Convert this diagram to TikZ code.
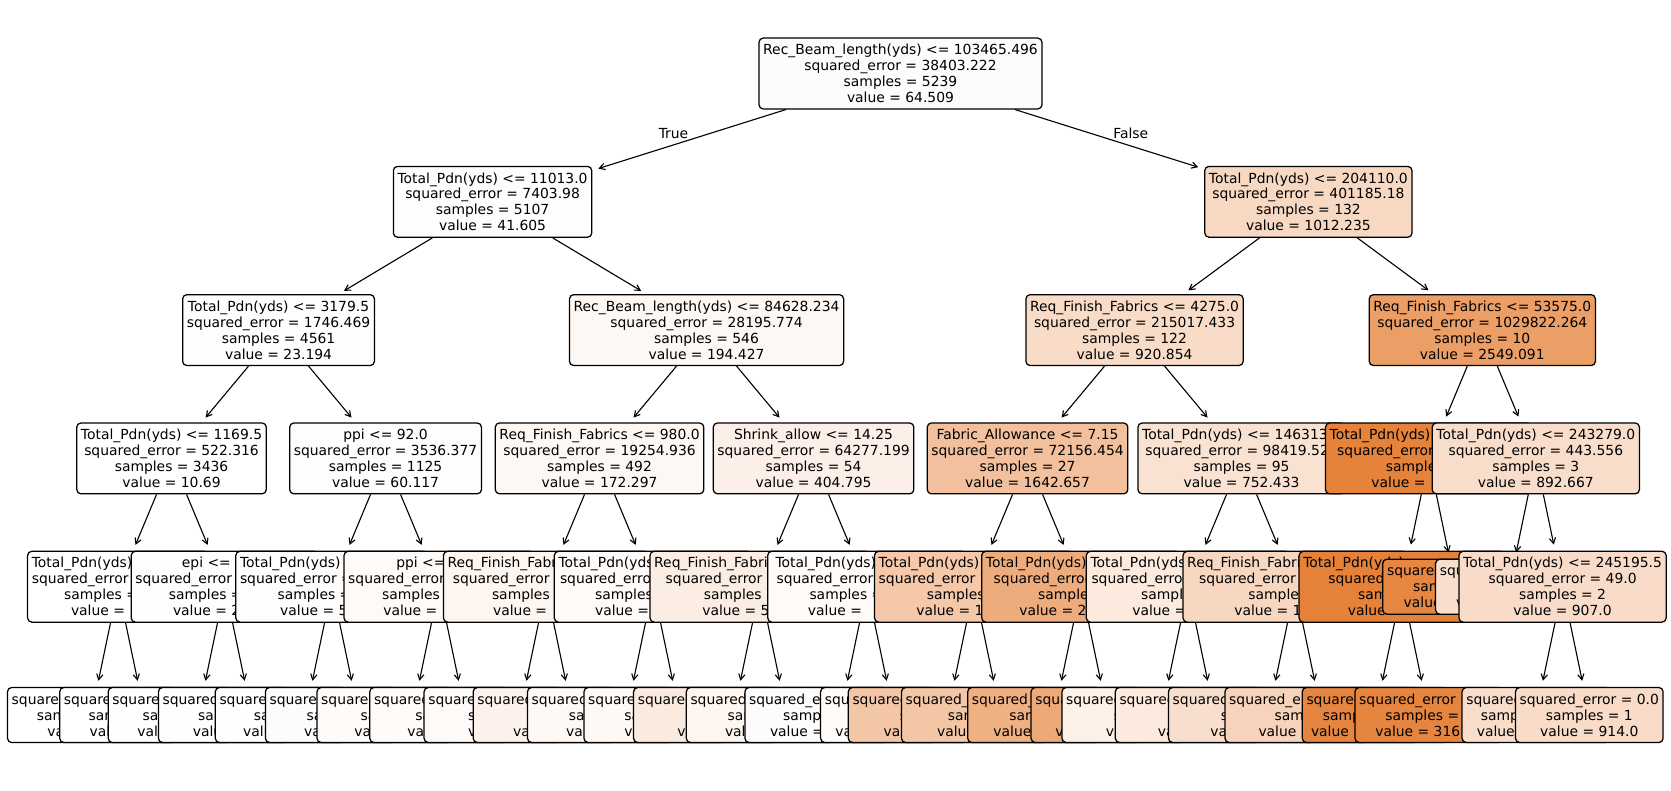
\documentclass[tikz,border=0pt]{standalone}
\usepackage{fontspec}
\setmainfont{DejaVu Sans}
\usetikzlibrary{arrows.meta}
\definecolor{treeor}{RGB}{229,129,57}
\newlength\lwlen
\newcommand{\lw}[2]{\pgfmathsetlength\lwlen{#1*0.72pt}\makebox[\lwlen][l]{#2}}
\begin{document}
\begin{tikzpicture}[x=0.72pt, y=-0.72pt,
  tn/.style={draw=black, line width=0.9pt, rounded corners=3pt, inner sep=3pt, align=center, font=\fontsize{10}{11.5}\selectfont, minimum height=51pt},
  lf/.style={tn, minimum height=39.6pt},
  mw/.style={minimum width=#1*0.72pt},
  arr/.style={draw=black, line width=0.8pt, -{Straight Barb[length=4pt,width=4.5pt]}, shorten >=4.5pt},
  lbl/.style={font=\fontsize{10}{11.5}\selectfont, inner sep=1pt}]
\fill[white] (0,0) rectangle (1671,790);
\useasboundingbox (0,0) rectangle (1671,790);
% level 0
\node[tn, fill=treeor!2] (r) at (900.5,73.5) {Rec\_Beam\_length(yds) <= 103465.496\\squared\_error = 38403.222\\samples = 5239\\value = 64.509};
% left half
\node[tn, fill=treeor!1.3] (n1) at (492.55,201.8) {Total\_Pdn(yds) <= 11013.0\\squared\_error = 7403.98\\samples = 5107\\value = 41.605};
\draw[arr] (r) -- (n1);
\node[lbl] (tl) at (673.5,133.2) {True};
\node[tn, fill=treeor!0.7] (nA) at (278.55,330.1) {Total\_Pdn(yds) <= 3179.5\\squared\_error = 1746.469\\samples = 4561\\value = 23.194};
\draw[arr] (n1) -- (nA);
\node[tn, fill=treeor!0.3] (a1) at (171.55,458.4) {Total\_Pdn(yds) <= 1169.5\\squared\_error = 522.316\\samples = 3436\\value = 10.69};
\draw[arr] (nA) -- (a1);
\node[tn, mw=180.9, fill=treeor!0.2] (e1) at (118.05,586.7) {\lw{172.5}{Total\_Pdn(yds) <=}\\\lw{172.5}{squared\_error =}\\\lw{107.7}{samples =}\\\lw{94.1}{value =}};
\draw[arr] (a1) -- (e1);
\node[lf, mw=167.6, fill=treeor!0] (f1) at (91.3,715) {\lw{159.2}{squared\_error =}\\\lw{109}{samples =}\\\lw{87.8}{value =}};
\draw[arr] (e1) -- (f1);
\node[lf, mw=170.2, fill=treeor!0.3] (f2) at (144.8,715) {\lw{161.8}{squared\_error =}\\\lw{112.4}{samples =}\\\lw{110.2}{value =}};
\draw[arr] (e1) -- (f2);
\node[tn, mw=187.7, fill=treeor!0.7] (e2) at (225.05,586.7) {\lw{86.3}{epi <= 1}\\\lw{179.3}{squared\_error =}\\\lw{112.5}{samples =}\\\lw{104.1}{value = 2}};
\draw[arr] (a1) -- (e2);
\node[lf, mw=180.2, fill=treeor!0.5] (f3) at (198.3,715) {\lw{171.8}{squared\_error =}\\\lw{111.4}{samples =}\\\lw{122}{value =}};
\draw[arr] (e2) -- (f3);
\node[lf, mw=186.8, fill=treeor!1] (f4) at (251.8,715) {\lw{178.4}{squared\_error =}\\\lw{107.2}{samples =}\\\lw{117.8}{value =}};
\draw[arr] (e2) -- (f4);
\node[tn, fill=treeor!1.8] (a2) at (385.55,458.4) {ppi <= 92.0\\squared\_error = 3536.377\\samples = 1125\\value = 60.117};
\draw[arr] (nA) -- (a2);
\node[tn, mw=192.5, fill=treeor!1.6] (e3) at (332.05,586.7) {\lw{184.1}{Total\_Pdn(yds) <=}\\\lw{184.1}{squared\_error =}\\\lw{108.9}{samples =}\\\lw{103.7}{value = 5}};
\draw[arr] (a2) -- (e3);
\node[lf, mw=180, fill=treeor!1] (f5) at (305.3,715) {\lw{171.6}{squared\_error =}\\\lw{103}{samples =}\\\lw{124.2}{value =}};
\draw[arr] (e3) -- (f5);
\node[lf, mw=186.8, fill=treeor!2] (f6) at (358.8,715) {\lw{178.4}{squared\_error =}\\\lw{104.2}{samples =}\\\lw{109.4}{value =}};
\draw[arr] (e3) -- (f6);
\node[tn, mw=190.1, fill=treeor!4] (e4) at (439.05,586.7) {\lw{85.5}{ppi <=}\\\lw{181.7}{squared\_error =}\\\lw{113.7}{samples =}\\\lw{111.5}{value =}};
\draw[arr] (a2) -- (e4);
\node[lf, mw=190.6, fill=treeor!3] (f7) at (412.3,715) {\lw{182.2}{squared\_error =}\\\lw{103.2}{samples =}\\\lw{115.8}{value =}};
\draw[arr] (e4) -- (f7);
\node[lf, mw=192, fill=treeor!3] (f8) at (465.8,715) {\lw{183.6}{squared\_error =}\\\lw{101}{samples =}\\\lw{117}{value =}};
\draw[arr] (e4) -- (f8);
\node[tn, fill=treeor!5.9] (nB) at (706.55,330.1) {Rec\_Beam\_length(yds) <= 84628.234\\squared\_error = 28195.774\\samples = 546\\value = 194.427};
\draw[arr] (n1) -- (nB);
\node[tn, fill=treeor!5.2] (b1) at (599.55,458.4) {Req\_Finish\_Fabrics <= 980.0\\squared\_error = 19254.936\\samples = 492\\value = 172.297};
\draw[arr] (nB) -- (b1);
\node[tn, mw=205.3, fill=treeor!8] (e5) at (546.05,586.7) {\lw{196.9}{Req\_Finish\_Fabrics <=}\\\lw{186.5}{squared\_error =}\\\lw{108.1}{samples =}\\\lw{105.9}{value =}};
\draw[arr] (b1) -- (e5);
\node[lf, mw=190.4, fill=treeor!4] (f9) at (519.3,715) {\lw{182}{squared\_error =}\\\lw{102.2}{samples =}\\\lw{102.2}{value =}};
\draw[arr] (e5) -- (f9);
\node[lf, mw=199.2, fill=treeor!10] (f10) at (572.8,715) {\lw{190.8}{squared\_error =}\\\lw{90}{samples =}\\\lw{119.2}{value =}};
\draw[arr] (e5) -- (f10);
\node[tn, mw=197.5, fill=treeor!3] (e6) at (653.05,586.7) {\lw{189.1}{Total\_Pdn(yds) <=}\\\lw{186.1}{squared\_error =}\\\lw{116}{samples =}\\\lw{116}{value =}};
\draw[arr] (b1) -- (e6);
\node[lf, mw=197.6, fill=treeor!5] (f11) at (626.3,715) {\lw{189.2}{squared\_error =}\\\lw{115}{samples =}\\\lw{120.2}{value =}};
\draw[arr] (e6) -- (f11);
\node[lf, mw=191.6, fill=treeor!5] (f12) at (679.8,715) {\lw{183.2}{squared\_error =}\\\lw{110.8}{samples =}\\\lw{110.8}{value =}};
\draw[arr] (e6) -- (f12);
\node[tn, fill=treeor!12.3] (b2) at (813.55,458.4) {Shrink\_allow <= 14.25\\squared\_error = 64277.199\\samples = 54\\value = 404.795};
\draw[arr] (nB) -- (b2);
\node[tn, mw=220.1, fill=treeor!14] (e7) at (760.05,586.7) {\lw{211.7}{Req\_Finish\_Fabrics <=}\\\lw{188.7}{squared\_error =}\\\lw{112.3}{samples =}\\\lw{115.5}{value = 5}};
\draw[arr] (b2) -- (e7);
\node[lf, mw=199.4, fill=treeor!16] (f13) at (733.3,715) {\lw{191}{squared\_error =}\\\lw{95}{samples =}\\\lw{112}{value =}};
\draw[arr] (e7) -- (f13);
\node[lf, mw=201, fill=treeor!8] (f14) at (786.8,715) {\lw{192.6}{squared\_error =}\\\lw{118.4}{samples =}\\\lw{123.6}{value =}};
\draw[arr] (e7) -- (f14);
\node[tn, mw=198.7, fill=treeor!3] (e8) at (867.05,586.7) {\lw{183.1}{Total\_Pdn(yds) <=}\\\lw{180.9}{squared\_error =}\\\lw{115.1}{samples =}\\\lw{118.3}{value =}};
\draw[arr] (b2) -- (e8);
\node[lf, mw=190.8, fill=treeor!2] (f15) at (840.3,715) {\lw{182.4}{squared\_error =}\\\lw{114.2}{samples =}\\\lw{140.6}{value =}};
\draw[arr] (e8) -- (f15);
\node[lf, mw=146.4, fill=treeor!3] (f16) at (893.8,715) {\lw{138}{squared\_error =}\\\lw{86.9}{samples =}\\\lw{116.8}{value =}};
\draw[arr] (e8) -- (f16);
% right half
\node[tn, fill=treeor!30.7] (n2) at (1308.4,201.8) {Total\_Pdn(yds) <= 204110.0\\squared\_error = 401185.18\\samples = 132\\value = 1012.235};
\draw[arr] (r) -- (n2);
\node[lbl] (fl) at (1130.7,133.2) {False};
\node[tn, fill=treeor!27.9] (nC) at (1134.55,330.1) {Req\_Finish\_Fabrics <= 4275.0\\squared\_error = 215017.433\\samples = 122\\value = 920.854};
\draw[arr] (n2) -- (nC);
\node[tn, fill=treeor!49.8] (c1) at (1027.55,458.4) {Fabric\_Allowance <= 7.15\\squared\_error = 72156.454\\samples = 27\\value = 1642.657};
\draw[arr] (nC) -- (c1);
\node[tn, mw=199.1, fill=treeor!44] (e9) at (974.05,586.7) {\lw{190.7}{Total\_Pdn(yds) <=}\\\lw{190.7}{squared\_error =}\\\lw{94.5}{samples =}\\\lw{115.5}{value = 1}};
\draw[arr] (c1) -- (e9);
\node[lf, mw=198, fill=treeor!45] (f17) at (947.3,715) {\lw{189.6}{squared\_error =}\\\lw{95}{samples =}\\\lw{127.4}{value =}};
\draw[arr] (e9) -- (f17);
\node[lf, mw=198.6, fill=treeor!45] (f18) at (1000.8,715) {\lw{190.2}{squared\_error =}\\\lw{106}{samples =}\\\lw{127.4}{value =}};
\draw[arr] (e9) -- (f18);
\node[tn, mw=198.7, fill=treeor!66] (e10) at (1081.05,586.7) {\lw{190.3}{Total\_Pdn(yds) <=}\\\lw{174.7}{squared\_error =}\\\lw{85.7}{samples =}\\\lw{123.5}{value = 2}};
\draw[arr] (c1) -- (e10);
\node[lf, mw=173.2, fill=treeor!63] (f19) at (1054.3,715) {\lw{164.8}{squared\_error =}\\\lw{89.8}{samples =}\\\lw{121.8}{value =}};
\draw[arr] (e10) -- (f19);
\node[lf, mw=153.4, fill=treeor!68] (f20) at (1107.8,715) {\lw{145}{squared\_error =}\\\lw{86.9}{samples =}\\\lw{105}{value =}};
\draw[arr] (e10) -- (f20);
\node[tn, fill=treeor!22.8] (c2) at (1241.55,458.4) {Total\_Pdn(yds) <= 146313\phantom{.0}\\squared\_error = 98419.52\phantom{4}\\samples = 95\\value = 752.433};
\draw[arr] (nC) -- (c2);
\node[tn, mw=203.5, fill=treeor!17] (e11) at (1188.05,586.7) {\lw{195.1}{Total\_Pdn(yds) <=}\\\lw{193.1}{squared\_error =}\\\lw{93.7}{samples =}\\\lw{111.5}{value =}};
\draw[arr] (c2) -- (e11);
\node[lf, mw=198.6, fill=treeor!12] (f21) at (1161.3,715) {\lw{190.2}{squared\_error =}\\\lw{95}{samples =}\\\lw{111}{value =}};
\draw[arr] (e11) -- (f21);
\node[lf, mw=199, fill=treeor!17] (f22) at (1214.8,715) {\lw{190.6}{squared\_error =}\\\lw{95}{samples =}\\\lw{114}{value =}};
\draw[arr] (e11) -- (f22);
\node[tn, mw=224.1, fill=treeor!32] (e12) at (1295.05,586.7) {\lw{215.7}{Req\_Finish\_Fabrics <=}\\\lw{191.7}{squared\_error =}\\\lw{93.3}{samples =}\\\lw{121.5}{value = 1}};
\draw[arr] (c2) -- (e12);
\node[lf, mw=199.6, fill=treeor!25] (f23) at (1268.3,715) {\lw{191.2}{squared\_error =}\\\lw{95}{samples =}\\\lw{116}{value =}};
\draw[arr] (e12) -- (f23);
\node[lf, mw=193.6, fill=treeor!35] (f24) at (1321.8,715) {\lw{185.2}{squared\_error =}\\\lw{94.4}{samples =}\\\lw{126.6}{value =}};
\draw[arr] (e12) -- (f24);
\node[tn, fill=treeor!77.2] (nD) at (1482.3,330.1) {Req\_Finish\_Fabrics <= 53575.0\\squared\_error = 1029822.264\\samples = 10\\value = 2549.091};
\draw[arr] (n2) -- (nD);
\node[tn, mw=206.6, fill=treeor!98.8] (d1) at (1428.8,458.4) {\lw{198.2}{Total\_Pdn(yds) <=}\\\lw{183.2}{squared\_error =}\\\lw{86}{samples =}\\\lw{114.8}{value =}};
\draw[arr] (nD) -- (d1);
\node[tn, mw=205.9, fill=treeor!100] (e13) at (1402.05,586.7) {\lw{197.5}{Total\_Pdn(yds) <=}\\\lw{147.3}{squared\_error =}\\\lw{87.7}{samples =}\\\lw{108.5}{value =}};
\draw[arr] (d1) -- (e13);
\node[lf, mw=146, fill=treeor!97] (f25) at (1375.3,715) {\lw{137.6}{squared\_error =}\\\lw{105}{samples =}\\\lw{128.6}{value =}};
\draw[arr] (e13) -- (f25);
\node[lf, mw=147.6, fill=treeor!97] (f26) at (1428.8,715) {\lw{139.2}{squared\_error =}\\\lw{86.9}{samples =}\\\lw{107}{value = 316}};
\draw[arr] (e13) -- (f26);
\node[lf, mw=145.5, fill=treeor!96] (e14) at (1455.55,586.7) {\lw{137.1}{squared\_error =}\\\lw{84.7}{samples =}\\\lw{103.7}{value =}};
\draw[arr] (d1) -- (e14);
\node[tn, fill=treeor!27] (d2) at (1535.8,458.4) {Total\_Pdn(yds) <= 243279.0\\squared\_error = 443.556\\samples = 3\\value = 892.667};
\draw[arr] (nD) -- (d2);
\node[lf, mw=146.9, fill=treeor!26] (e15) at (1509.05,586.7) {\lw{138.5}{squared\_error =}\\\lw{86.9}{samples =}\\\lw{106}{value =}};
\draw[arr] (d2) -- (e15);
\node[tn, fill=treeor!27.5] (e16) at (1562.55,586.7) {Total\_Pdn(yds) <= 245195.5\\squared\_error = 49.0\\samples = 2\\value = 907.0};
\draw[arr] (d2) -- (e16);
\node[lf, mw=147.4, fill=treeor!27] (f27) at (1535.8,715) {\lw{139}{squared\_error =}\\\lw{110}{samples =}\\\lw{118}{value =}};
\draw[arr] (e16) -- (f27);
\node[lf, fill=treeor!27.7] (f28) at (1589.3,715) {squared\_error = 0.0\\samples = 1\\value = 914.0};
\draw[arr] (e16) -- (f28);
\end{tikzpicture}
\end{document}
